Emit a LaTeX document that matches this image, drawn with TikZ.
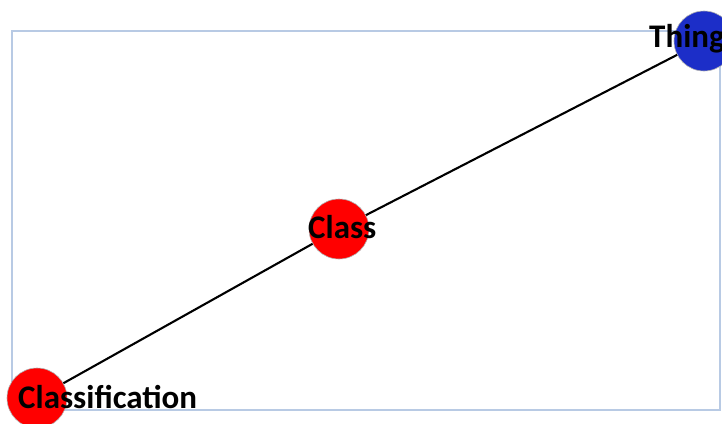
\documentclass[tikz,border=0pt]{standalone}
\usepackage{fontspec}
\setmainfont{Carlito}
\usepackage{tikz}
\usetikzlibrary{positioning}
\definecolor{framecol}{RGB}{184,202,228}
\definecolor{thingblue}{RGB}{28,46,200}
\definecolor{classred}{RGB}{255,0,0}
\tikzset{vert/.style={circle,minimum size=60pt,inner sep=0pt,draw=gray!60,line width=0.6pt},
 lbl/.style={anchor=base west,inner sep=0pt,font=\fontsize{33}{39}\selectfont\bfseries},
 edge/.style={draw=black,line width=2.1pt}}
\begin{document}
\begin{tikzpicture}[x=1pt,y=-1pt]
\useasboundingbox (0,0) rectangle (722,423);
\draw[framecol,line width=1.3pt] (12,31) rectangle (720,410);
\node[vert,fill=thingblue] (thing) at (704,41) {};
\node[vert,fill=classred] (class) at (339,229) {};
\node[vert,fill=classred] (classif) at (37,398) {};
\draw[edge] (thing)--(class);
\draw[edge] (class)--(classif);
\node[lbl] (thinglbl) at (649,47) {Thing};
\node[lbl] (classlbl) at (308,238) {Class};
\node[lbl] (classiflbl) at (18,408) {Classification};
\end{tikzpicture}
\end{document}
